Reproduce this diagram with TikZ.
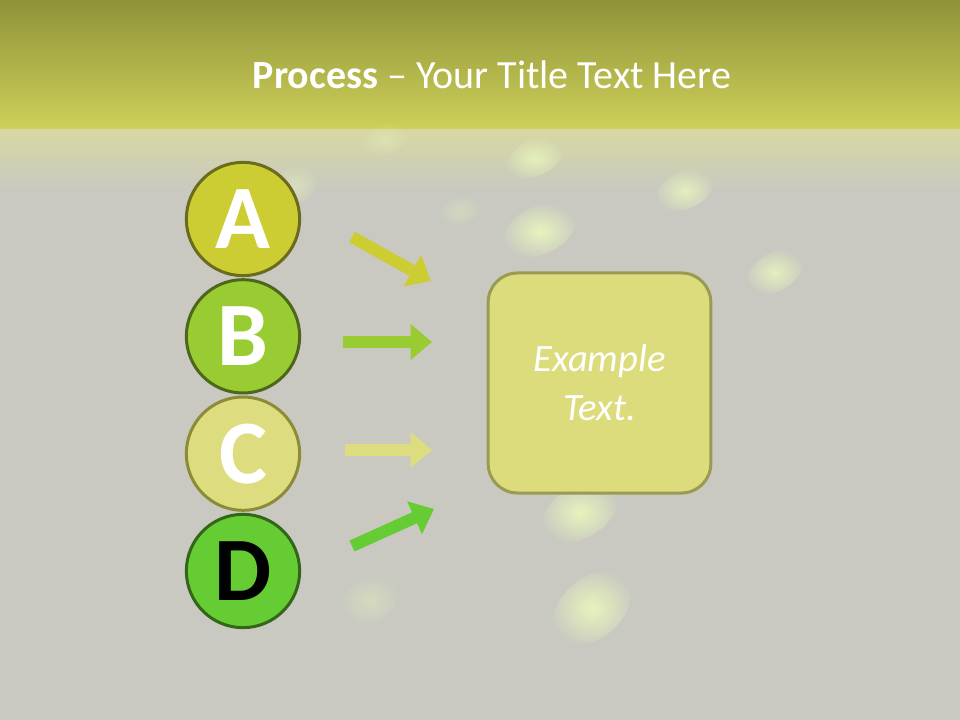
\documentclass[tikz,border=0pt]{standalone}
\usepackage{fontspec}
\setmainfont{Carlito}
\usetikzlibrary{arrows.meta,positioning,fadings}
\definecolor{bggray}{HTML}{C9C9C1}
\definecolor{topolive}{HTML}{8F9338}
\definecolor{bandgreen}{HTML}{CFD15A}
\definecolor{bandpale}{HTML}{D7D8A2}
\definecolor{fillA}{HTML}{CCCC33}
\definecolor{fillB}{HTML}{99CC33}
\definecolor{fillC}{HTML}{DDDD80}
\definecolor{fillD}{HTML}{66CC33}
\definecolor{lineA}{HTML}{6B6B1F}
\definecolor{lineB}{HTML}{4D6619}
\definecolor{lineC}{HTML}{8C8C38}
\definecolor{lineD}{HTML}{336619}
\definecolor{boxfill}{HTML}{DCDC7C}
\definecolor{boxline}{HTML}{9A9A52}
\definecolor{blobgreen}{HTML}{E6F4BC}
\tikzfading[name=blobfade, inner color=transparent!0, outer color=transparent!100]
\tikzstyle{letter} = [circle, draw, line width=2.25pt, minimum size=85pt, inner sep=0pt, text=white, font=\bfseries\fontsize{68}{68}\selectfont]
\tikzstyle{flow} = [line width=9pt, -{Triangle[length=16pt,width=26pt]}]
\tikzstyle{blob} = [blobgreen, path fading=blobfade, opacity=0.9]

\begin{document}
\begin{tikzpicture}[x=0.75pt,y=-0.75pt,node distance=88pt]
  \useasboundingbox (0,0) rectangle (960,720);
  % background
  \fill[bggray] (0,0) rectangle (960,720);
  \shade[top color=topolive, bottom color=bandgreen] (0,0) rectangle (960,131);
  \shade[top color=bandpale, bottom color=bggray] (0,130) rectangle (960,190);
  % soft blobs
  \fill[blob, opacity=1] (540,230) ellipse [x radius=38, y radius=24, rotate=25];
  \fill[blob] (535,158) ellipse [x radius=30, y radius=18, rotate=25];
  \fill[blob] (685,190) ellipse [x radius=30, y radius=19, rotate=25];
  \fill[blob] (775,272) ellipse [x radius=30, y radius=19, rotate=30];
  \fill[blob, opacity=1] (592,608) ellipse [x radius=44, y radius=30, rotate=40];
  \fill[blob, opacity=1] (580,512) ellipse [x radius=40, y radius=26, rotate=30];
  \fill[blob, opacity=0.5] (295,185) ellipse [x radius=24, y radius=18, rotate=30];
  \fill[blob, opacity=0.4] (370,600) ellipse [x radius=30, y radius=22, rotate=30];
  \fill[blob, opacity=0.4] (385,140) ellipse [x radius=26, y radius=14, rotate=25];
  \fill[blob, opacity=0.35] (460,210) ellipse [x radius=22, y radius=14, rotate=25];

  % title
  \node (title) at (492,75) {\color{white}\fontsize{30}{36}\selectfont\textbf{Process} – Your Title Text Here};

  % circles
  \node[letter, fill=fillA, draw=lineA] (A) at (243,219) {A};
  \node[letter, fill=fillB, draw=lineB] (B) [below of=A] {B};
  \node[letter, fill=fillC, draw=lineC] (C) [below of=B] {C};
  \node[letter, fill=fillD, draw=lineD, text=black] (D) [below of=C] {D};

  % target box
  \node[draw=boxline, fill=boxfill, line width=2.25pt, rounded corners=22pt,
        minimum width=167pt, minimum height=165pt, align=center, text=white,
        font=\itshape\fontsize{29}{37}\selectfont] (box) at (599.5,383) {Example\\Text.};

  % arrows
  \coordinate (a1) at (352,237); \coordinate (a2) at (431,281);
  \coordinate (b1) at (343,342); \coordinate (b2) at (432,342);
  \coordinate (c1) at (345,450); \coordinate (c2) at (432,450);
  \coordinate (d1) at (352,546); \coordinate (d2) at (434,509);
  \draw[flow, fillA] (a1) -- (a2);
  \draw[flow, fillB] (b1) -- (b2);
  \draw[flow, fillC] (c1) -- (c2);
  \draw[flow, fillD] (d1) -- (d2);
\end{tikzpicture}
\end{document}
